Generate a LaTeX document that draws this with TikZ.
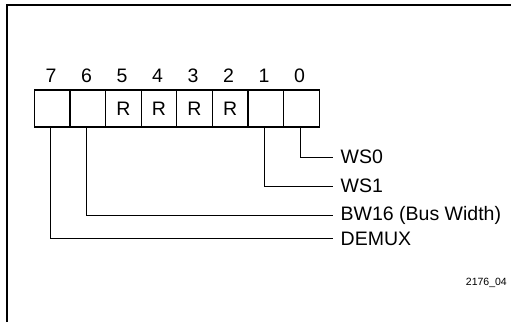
\documentclass[tikz,border=0pt]{standalone}
\usepackage{fontspec}
\setmainfont{Liberation Sans}
\usepackage{tikz}
\usepackage{xcolor}

\begin{document}
\begin{tikzpicture}[x=1pt, y=-1pt,
			 bitcell/.style={rectangle, draw, line width=1.2pt, minimum width=35.6pt, minimum height=37pt, inner sep=0pt, font=\fontsize{19.5}{21}\selectfont},
			 bitnum/.style={inner sep=0pt, font=\fontsize{19.5}{21}\selectfont},
			 campo/.style={anchor=west, inner sep=0pt, font=\fontsize{19.5}{21}\selectfont},
			 guia/.style={line width=1pt}
  		]
	\useasboundingbox (0,0) rectangle (511,322);

	%Marco
		\draw[line width=2pt] (7,322) -- (7,5) -- (511,5);

	%Creamos las celdas del registro
		\node[bitcell] (b7) at (52.1,108.5) {};
		\node[bitcell] (b6) at (87.7,108.5) {};
		\node[bitcell] (b5) at (123.3,108.5) {R};
		\node[bitcell] (b4) at (158.9,108.5) {R};
		\node[bitcell] (b3) at (194.5,108.5) {R};
		\node[bitcell] (b2) at (230.1,108.5) {R};
		\node[bitcell] (b1) at (265.7,108.5) {};
		\node[bitcell] (b0) at (301.3,108.5) {};

	%Numeros de bit
		\node[bitnum] (n7) at (51,76) {7};
		\node[bitnum] (n6) at (86.5,76) {6};
		\node[bitnum] (n5) at (122,76) {5};
		\node[bitnum] (n4) at (157.5,76) {4};
		\node[bitnum] (n3) at (193,76) {3};
		\node[bitnum] (n2) at (228.5,76) {2};
		\node[bitnum] (n1) at (264,76) {1};
		\node[bitnum] (n0) at (299.5,76) {0};

	%Nombres de los campos
		\node[campo] (ws0) at (340.5,157) {WS0};
		\node[campo] (ws1) at (340.5,186) {WS1};
		\node[campo] (bw16) at (340.5,215) {BW16 (Bus Width)};
		\node[campo] (demux) at (340.5,238.5) {DEMUX};

	%Lineas guia
		\coordinate (e0) at (333,157);
		\coordinate (e1) at (333,186);
		\coordinate (e6) at (333,215);
		\coordinate (e7) at (333,238.5);
		\draw[guia] ([xshift=-1.3pt]b0.south) |- (e0);
		\draw[guia] ([xshift=-1.3pt]b1.south) |- (e1);
		\draw[guia] ([xshift=-1.5pt]b6.south) |- (e6);
		\draw[guia] ([xshift=-1.5pt]b7.south) |- (e7);

	%Referencia
		\node[inner sep=0pt, anchor=east, font=\fontsize{10.5}{12}\selectfont] (ref) at (507,283) {2176\_04};
	\end{tikzpicture}
\end{document}
